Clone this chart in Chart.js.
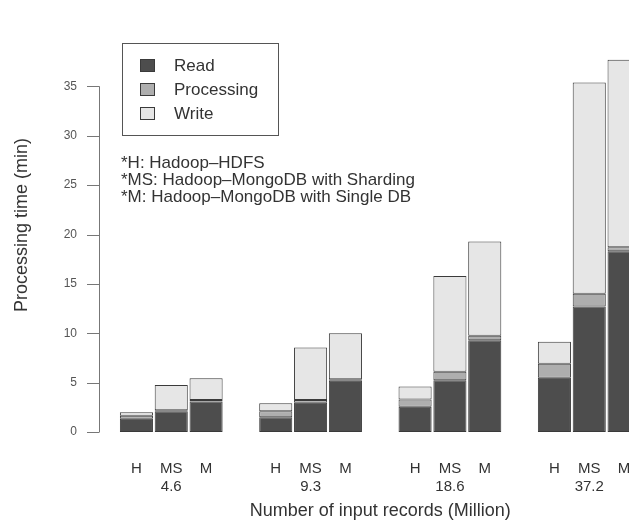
<!DOCTYPE html>
<html>
<head>
<meta charset="utf-8">
<script src="https://cdn.jsdelivr.net/npm/chart.js@4.4.0/dist/chart.umd.min.js"></script>
<style>
  body { margin: 0; overflow: hidden; background: #fff; }
  canvas { display: block; }
</style>
</head>
<body>
<canvas id="timeChart" width="660" height="522"></canvas>
<script>
// input sizes (million records) and the three setups per size
let groupLabels = ["4.6", "9.3", "18.6", "37.2"];
let methods = ["H", "MS", "M"];

// minutes, order: H, MS, M for each input size
let readTime = [1.35, 2.1, 3.1, 1.5, 2.95, 5.2, 2.55, 5.25, 9.3, 5.5, 12.7, 18.3];
let processingTime = [0.3, 0.1, 0.15, 0.6, 0.3, 0.15, 0.75, 0.85, 0.45, 1.4, 1.3, 0.4];
let writeTime = [0.35, 2.55, 2.2, 0.8, 5.3, 4.65, 1.3, 9.7, 9.55, 2.25, 21.4, 19.0];

let yTicks = [0, 5, 10, 15, 20, 25, 30, 35];

let notes = [
    "*H: Hadoop\u2013HDFS",
    "*MS: Hadoop\u2013MongoDB with Sharding",
    "*M: Hadoop\u2013MongoDB with Single DB"
];

let fontFamily = "'Liberation Sans', Arial, sans-serif";
let textColor = "#333";

// one slot per bar, with an empty slot between the input sizes
let labels = [];
let slotIndex = [];
for(let g = 0; g < groupLabels.length; g++) {
    for(let m = 0; m < methods.length; m++) {
        labels.push(methods[m] == "MS" ? [methods[m], groupLabels[g]] : methods[m]);
        slotIndex.push(g * methods.length + m);
    }
    if(g < groupLabels.length - 1) {
        labels.push("");
        slotIndex.push(null);
    }
}

function toSlots(values) {
    return slotIndex.map(i => i === null ? null : values[i]);
}

function makeDataset(title, values, color) {
    return {
        label: title,
        data: toSlots(values),
        backgroundColor: color,
        borderColor: "#3a3a3a",
        borderWidth: 1,
        borderSkipped: false,
        barPercentage: 0.95,
        categoryPercentage: 1
    };
}

// R style axis on the left, plus the legend box and the notes
const annotations = {
    id: "annotations",
    afterDraw(chart) {
        const ctx = chart.ctx;
        const y = chart.scales.y;
        const axisX = chart.chartArea.left - 20;

        ctx.save();
        ctx.strokeStyle = "#777";
        ctx.lineWidth = 1;
        ctx.beginPath();
        ctx.moveTo(axisX + 0.5, y.getPixelForValue(yTicks[0]));
        ctx.lineTo(axisX + 0.5, y.getPixelForValue(yTicks[yTicks.length - 1]));
        for(let i = 0; i < yTicks.length; i++) {
            let py = Math.round(y.getPixelForValue(yTicks[i])) + 0.5;
            ctx.moveTo(axisX - 12, py);
            ctx.lineTo(axisX + 0.5, py);
        }
        ctx.stroke();

        // y axis title
        ctx.fillStyle = textColor;
        ctx.font = "18px " + fontFamily;
        ctx.textAlign = "center";
        ctx.textBaseline = "middle";
        ctx.translate(22, 225);
        ctx.rotate(-Math.PI / 2);
        ctx.fillText("Processing time (min)", 0, 0);
        ctx.restore();

        // legend
        ctx.save();
        ctx.strokeStyle = "#555";
        ctx.lineWidth = 1;
        ctx.strokeRect(122.5, 43.5, 156, 92);
        ctx.font = "17px " + fontFamily;
        ctx.textAlign = "left";
        ctx.textBaseline = "middle";
        let rows = [65, 89, 113];
        chart.data.datasets.forEach((ds, i) => {
            ctx.fillStyle = ds.backgroundColor;
            ctx.fillRect(140, rows[i] - 6, 15, 13);
            ctx.strokeStyle = "#3a3a3a";
            ctx.strokeRect(140.5, rows[i] - 5.5, 14, 12);
            ctx.fillStyle = textColor;
            ctx.fillText(ds.label, 174, rows[i] + 1);
        });

        // notes
        ctx.font = "17px " + fontFamily;
        for(let i = 0; i < notes.length; i++) {
            ctx.fillText(notes[i], 121, 163 + i * 17);
        }
        ctx.restore();
    }
};

const chart = new Chart(document.getElementById("timeChart"), {
    type: "bar",
    data: {
        labels: labels,
        datasets: [
            makeDataset("Read", readTime, "#4D4D4D"),
            makeDataset("Processing", processingTime, "#AEAEAE"),
            makeDataset("Write", writeTime, "#E6E6E6")
        ]
    },
    options: {
        responsive: false,
        animation: false,
        layout: { padding: { left: 0, right: 18.5, top: 0, bottom: 0 } },
        plugins: {
            legend: { display: false },
            tooltip: { enabled: false }
        },
        scales: {
            x: {
                stacked: true,
                grid: { display: false, drawTicks: false },
                border: { display: false },
                afterFit(scale) { scale.height = 90; },
                ticks: {
                    autoSkip: false,
                    maxRotation: 0,
                    minRotation: 0,
                    padding: 28,
                    color: textColor,
                    font: { family: fontFamily, size: 15, lineHeight: 1.2 }
                },
                title: {
                    display: true,
                    text: "Number of input records (Million)",
                    color: textColor,
                    padding: { top: 0, bottom: 0 },
                    font: { family: fontFamily, size: 18, lineHeight: 1.2 }
                }
            },
            y: {
                stacked: true,
                min: 0,
                max: 38.77,
                grid: { display: false, drawTicks: false },
                border: { display: false },
                afterFit(scale) { scale.width = 119; },
                afterBuildTicks(scale) {
                    scale.ticks = yTicks.map(v => ({ value: v }));
                },
                ticks: {
                    padding: 42,
                    color: "#555",
                    font: { family: fontFamily, size: 12 }
                }
            }
        }
    },
    plugins: [annotations]
});
</script>
</body>
</html>
